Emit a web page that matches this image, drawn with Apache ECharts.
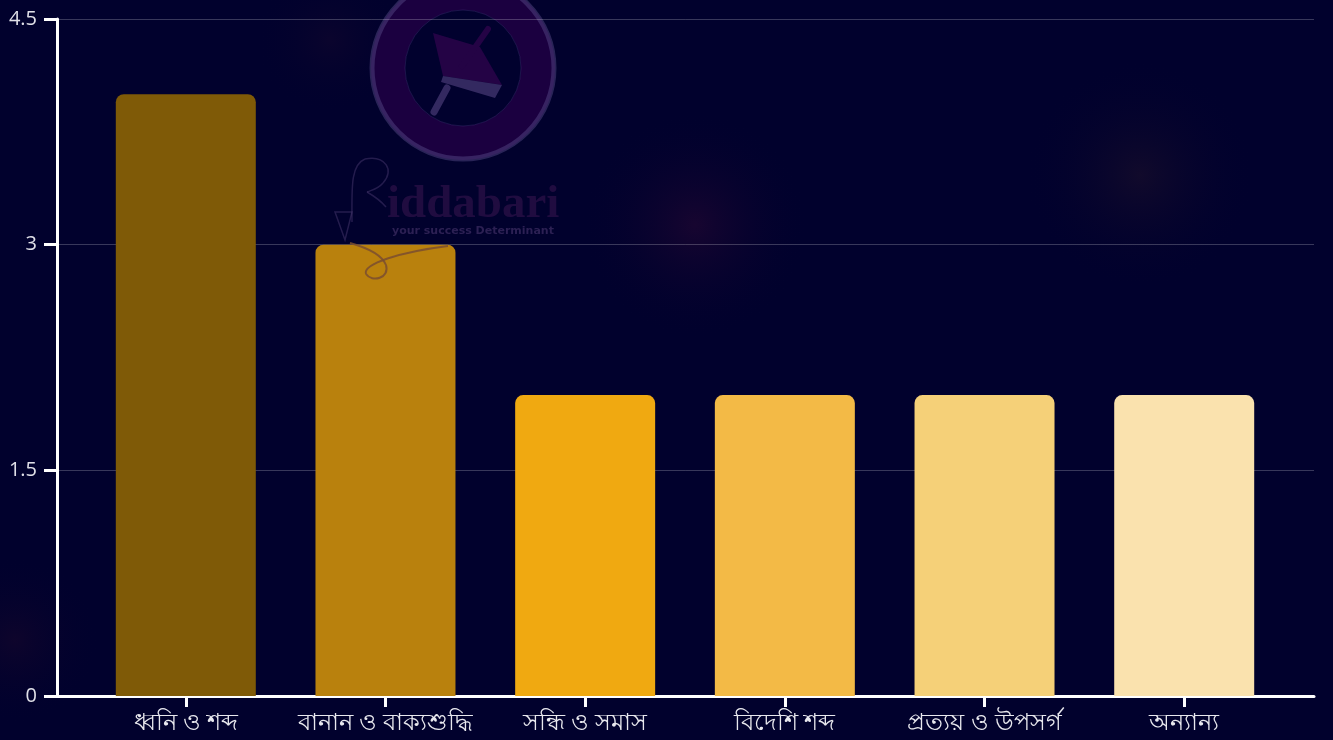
<!DOCTYPE html>
<html><head><meta charset="utf-8">
<style>html,body{margin:0;padding:0;background:#01012d}#c{width:1333px;height:740px}</style>
<script src="https://cdn.jsdelivr.net/npm/echarts@6/dist/echarts.min.js"></script>
</head><body><div id="c"></div>
<script>
const categories = ['ধ্বনি ও শব্দ','বানান ও বাক্যশুদ্ধি','সন্ধি ও সমাস','বিদেশি শব্দ','প্রত্যয় ও উপসর্গ','অন্যান্য'];
const values = [4,3,2,2,2,2];
const barColors = ['#7f5a07','#b9810d','#f0a911','#f3ba46','#f5d078','#fae2ae'];
const yTicks = [0,1.5,3,4.5];
const positions = categories.map((_, i) => i);

function blob(cx, cy, r, color) {
  return {type:'circle', z:-1, silent:true, shape:{cx, cy, r},
    style:{fill:{type:'radial',x:0.5,y:0.5,r:0.5,colorStops:[{offset:0,color},{offset:1,color:'rgba(1,1,45,0)'}]}}};
}
function curve(x1,y1,cpx1,cpy1,cpx2,cpy2,x2,y2,stroke,lineWidth,z) {
  return {type:'bezierCurve', z:z||0, silent:true, shape:{x1,y1,cpx1,cpy1,cpx2,cpy2,x2,y2}, style:{fill:'none',stroke,lineWidth}};
}
const ringC = 'rgba(92,78,140,0.45)';
const penC = 'rgba(72,55,110,0.5)';
const loopC = 'rgba(122,78,48,0.85)';
const graphics = [
  blob(695,225,115,'rgba(38,8,50,0.6)'),
  blob(1140,175,115,'rgba(28,16,42,0.6)'),
  blob(330,40,75,'rgba(28,10,45,0.35)'),
  blob(15,640,85,'rgba(34,10,42,0.4)'),
  {type:'ring', z:0, silent:true, shape:{cx:463,cy:68,r:92,r0:58}, style:{fill:'#1b0040'}},
  {type:'circle', z:0, silent:true, shape:{cx:463,cy:68,r:91}, style:{fill:'none',stroke:ringC,lineWidth:5}},
  {type:'circle', z:0, silent:true, shape:{cx:463,cy:68,r:58}, style:{fill:'#01012e',stroke:'rgba(70,50,120,0.4)',lineWidth:1}},
  {type:'polygon', z:0, silent:true, shape:{points:[[433,33],[480,47],[502,85],[443,76]]}, style:{fill:'#240345'}},
  {type:'polygon', z:0, silent:true, shape:{points:[[443,76],[502,85],[495,98],[441,82]]}, style:{fill:'rgba(72,58,118,0.7)'}},
  {type:'line', z:0, silent:true, shape:{x1:462,y1:66,x2:488,y2:29}, style:{stroke:'#240345',lineWidth:6,lineCap:'round'}},
  {type:'line', z:0, silent:true, shape:{x1:447,y1:88,x2:434,y2:112}, style:{stroke:'rgba(72,58,118,0.7)',lineWidth:7,lineCap:'round'}},
  {type:'text', z:0, silent:true, style:{x:387,y:228,text:'iddabari',textVerticalAlign:'bottom',fill:'rgba(38,14,68,0.85)',font:'bold 47px "Liberation Serif"',textAlign:'left',letterSpacing:8}},
  {type:'text', z:0, silent:true, style:{x:392,y:231,text:'your success Determinant',textVerticalAlign:'middle',fill:'rgba(62,46,100,0.7)',font:'bold 11px "DejaVu Sans"',letterSpacing:2.6}},
  curve(352,222,352,190,350,165,365,159,penC,1.5),
  curve(365,159,385,155,395,170,383,183,penC,1.5),
  curve(383,183,378,189,372,190,367,192,penC,1.5),
  curve(367,192,374,196,380,200,386,207,penC,1.5),
  {type:'polygon', z:0, silent:true, shape:{points:[[335,212],[352,212],[345,240]]}, style:{fill:'none',stroke:penC,lineWidth:1.5}},
  curve(350,243,368,248,382,255,386,265,loopC,2,10),
  curve(386,265,390,278,372,283,366,274,loopC,2,10),
  curve(366,274,362,264,400,252,448,246,loopC,2,10)
];

const chart = echarts.init(document.getElementById('c'), null, {width:1333,height:740});
chart.setOption({
  animation:false,
  backgroundColor:'#01012d',
  graphic:{elements:graphics},
  grid:{left:57,right:19,top:19,bottom:44,containLabel:false},
  xAxis:{
    type:'value', min:-0.645, max:5.65, splitLine:{show:false},
    axisLine:{show:true,onZero:false,lineStyle:{color:'#ffffff',width:3}},
    axisTick:{show:true,customValues:positions,length:11,lineStyle:{color:'#ffffff',width:3}},
    axisLabel:{customValues:positions,color:'#e8e8ee',fontSize:24,margin:15,
      fontFamily:'"Noto Sans","Open Sans",sans-serif',hideOverlap:false,
      formatter:v=>categories[Math.round(v)]}
  },
  yAxis:{
    type:'value', min:0, max:4.5,
    axisLine:{show:true,onZero:false,lineStyle:{color:'#ffffff',width:3}},
    axisTick:{show:true,customValues:yTicks,length:13,lineStyle:{color:'#ffffff',width:3}},
    axisLabel:{customValues:yTicks,color:'#e0e0e8',fontSize:20,margin:20,fontFamily:'"Open Sans",sans-serif',
      formatter:v=>String(v)},
    splitLine:{show:true,lineStyle:{color:'rgba(255,255,255,0.22)',width:1}}
  },
  series:[{
    type:'bar', barWidth:140,
    itemStyle:{borderRadius:[8,8,0,0]},
    data:values.map((v,i)=>({value:[positions[i],v],itemStyle:{color:barColors[i]}}))
  }]
});
</script></body></html>
